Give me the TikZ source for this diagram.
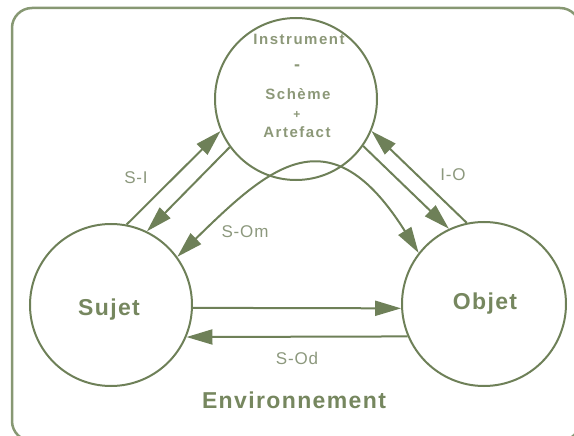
\documentclass[tikz,border=0pt]{standalone}
\usepackage{fontspec}
\setmainfont{Liberation Sans}
\newfontfamily\bigf[LetterSpace=6]{Liberation Sans}
\newfontfamily\instf[LetterSpace=10]{Liberation Sans}
\newfontfamily\labf[LetterSpace=5]{Liberation Sans}
\usetikzlibrary{arrows.meta}
\definecolor{gline}{RGB}{110,128,88}
\definecolor{gframe}{RGB}{135,152,115}
\definecolor{gtext}{RGB}{118,135,95}
\definecolor{glab}{RGB}{140,152,125}
\definecolor{ginst}{RGB}{140,152,120}
\begin{document}
\begin{tikzpicture}[x=1pt,y=-1pt,
  circ/.style={circle, draw=gline, line width=2pt, minimum size=162pt, inner sep=0pt},
  conn/.style={draw=gline, line width=2pt, -{Triangle[length=26pt,width=15pt]}},
  conn2/.style={draw=gline, line width=2pt, {Triangle[length=26pt,width=15pt]}-{Triangle[length=26pt,width=15pt]}},
  frame/.style={draw=gframe, line width=2.5pt, rounded corners=20pt},
  big/.style={text=gtext, font=\bigf\bfseries\fontsize{23}{27}\selectfont, anchor=base, inner sep=0pt},
  inst/.style={text=ginst, font=\instf\bfseries\fontsize{15}{17}\selectfont, anchor=base, inner sep=0pt},
  lab/.style={text=glab, font=\labf\fontsize{17}{20}\selectfont, inner sep=0pt}
]
\useasboundingbox (0,0) rectangle (574,436);
\begin{scope}
\clip (0,0) rectangle (574,436);
\draw[frame] (12,8) rectangle (580,441);
\end{scope}
% circles
\node[circ] (instr) at (296,99) {};
\node[circ] (sujet) at (111,305) {};
\node[circ, minimum size=164pt] (objet) at (484,304) {};
% texts
\node[big] (sujett) at (109,315) {Sujet};
\node[big] (objett) at (485,309) {Objet};
\node[big] (env) at (294,408) {Environnement};
\node[inst] (i1) at (299,45) {Instrument};
\node[inst, font=\instf\bfseries\fontsize{18}{18}\selectfont] (i2) at (297,71) {-};
\node[inst] (i3) at (298,100) {Schème};
\node[inst, font=\instf\bfseries\fontsize{12}{12}\selectfont] (i4) at (297,119) {+};
\node[inst] (i5) at (297,138) {Artefact};
% connectors
\draw[conn] (sujet.79) -- (instr.203);
\draw[conn] (instr.216) -- (sujet.64);
\draw[conn] (objet.102) -- (instr.337);
\draw[conn] (instr.325) -- (objet.115);
\draw[conn] (sujet.-2) -- (objet.183);
\draw[conn] (objet.203.7) -- (sujet.-23.3);
\draw[conn2] (sujet.36) .. controls (270,166) and (330,112) .. (objet.142);
% labels
\node[lab] (lsi) at (136,178) {S-I};
\node[lab] (lsom) at (245,232) {S-Om};
\node[lab] (lio) at (453,175) {I-O};
\node[lab] (lsod) at (297,358) {S-Od};
\end{tikzpicture}
\end{document}
